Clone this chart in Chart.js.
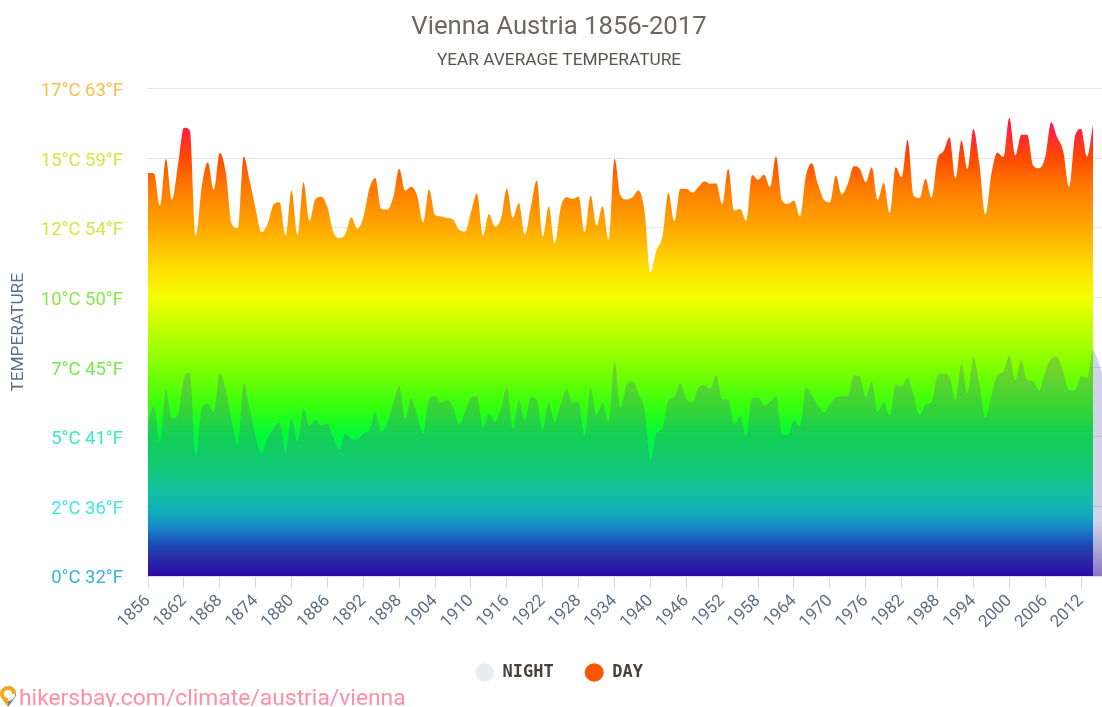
<!DOCTYPE html>
<html>
<head>
<meta charset="utf-8">
<title>Vienna Austria 1856-2017</title>
<script src="https://cdn.jsdelivr.net/npm/chart.js@4"></script>
<style>
html, body { margin: 0; padding: 0; width: 1102px; height: 707px; overflow: hidden; background: #fff; }
#wrap { position: relative; width: 1102px; height: 707px; overflow: hidden; }
#chart { position: absolute; left: 0; top: 0; }
#link { position: absolute; left: 19px; top: 684px; font: 22.85px Roboto, sans-serif; color: #ff8ea5; white-space: nowrap; }
#pin { position: absolute; left: 0; top: 686px; }
</style>
</head>
<body>
<div id="wrap">
  <canvas id="chart" width="1118" height="707"></canvas>
  <svg id="pin" width="16" height="21" viewBox="0 0 16 21">
    <path d="M8 0a8 8 0 0 1 8 8c0 2-1 3.500-2 5l-6 8V15a7 7 0 0 0 0-14z" fill="#7b8794"/>
    <path d="M8 0a8 8 0 0 0-8 8c0 2 1 3.500 2 5l6 8V12a4 4 0 0 1 0-8 4 4 0 0 1 4 4h4a8 8 0 0 0-8-8z" fill="#f5a623"/>
    <circle cx="8" cy="8" r="3.500" fill="#fff"/>
  </svg>
  <div id="link">hikersbay.com/climate/austria/vienna</div>
</div>
<script>
let years=[1856,1857,1858,1859,1860,1861,1862,1863,1864,1865,1866,1867,1868,1869,1870,1871,1872,1873,1874,1875,
1876,1877,1878,1879,1880,1881,1882,1883,1884,1885,1886,1887,1888,1889,1890,1891,1892,1893,1894,1895,
1896,1897,1898,1899,1900,1901,1902,1903,1904,1905,1906,1907,1908,1909,1910,1911,1912,1913,1914,1915,
1916,1917,1918,1919,1920,1921,1922,1923,1924,1925,1926,1927,1928,1929,1930,1931,1932,1933,1934,1935,
1936,1937,1938,1939,1940,1941,1942,1943,1944,1945,1946,1947,1948,1949,1950,1951,1952,1953,1954,1955,
1956,1957,1958,1959,1960,1961,1962,1963,1964,1965,1966,1967,1968,1969,1970,1971,1972,1973,1974,1975,
1976,1977,1978,1979,1980,1981,1982,1983,1984,1985,1986,1987,1988,1989,1990,1991,1992,1993,1994,1995,
1996,1997,1998,1999,2000,2001,2002,2003,2004,2005,2006,2007,2008,2009,2010,2011,2012,2013,2014,2015,2016,2017]

let day_temp=[14.47,14.46,13.30,14.97,13.51,14.74,16.09,15.99,12.23,14.02,14.86,13.88,15.19,14.50,12.65,12.49,15.06,14.20,13.18,12.35,
12.65,13.34,13.42,12.23,13.84,12.25,14.14,12.76,13.54,13.62,13.24,12.35,12.13,12.29,12.88,12.47,12.88,13.90,14.29,13.18,
13.16,13.60,14.62,13.84,13.98,13.66,12.70,13.88,12.97,12.91,12.85,12.80,12.43,12.37,13.06,13.74,12.23,13.00,12.55,12.82,
13.90,12.86,13.39,12.26,13.24,14.20,12.19,13.27,11.95,13.24,13.60,13.54,13.63,12.35,13.66,12.59,13.28,12.08,14.98,13.66,
13.52,13.60,13.84,13.12,10.91,11.69,12.17,13.76,12.74,13.90,13.90,13.76,13.96,14.16,14.08,14.10,13.36,14.62,13.12,13.18,
12.76,14.40,14.23,14.41,13.96,15.06,13.48,13.36,13.48,12.92,14.38,14.82,14.08,13.51,13.42,14.38,13.70,14.08,14.71,14.62,
14.14,14.68,13.51,14.12,13.03,14.68,14.32,15.66,13.66,13.57,14.26,13.58,14.98,15.25,15.75,14.28,15.63,14.62,16.05,14.80,
12.98,14.44,15.21,15.04,16.45,15.10,15.84,15.84,14.74,14.64,15.04,16.29,15.75,15.27,13.98,15.81,16.05,15.06,16.21,null,null,null]

let night_temp=[5.53,6.11,4.82,6.69,5.65,5.81,7.09,7.30,4.34,6.01,6.19,5.89,7.27,6.67,5.59,4.70,6.91,6.01,5.00,4.40,
4.94,5.30,5.51,4.48,5.65,4.82,6.01,5.41,5.62,5.41,5.47,4.94,4.54,5.12,4.90,4.90,5.12,5.24,5.89,5.18,
5.47,6.19,6.81,5.65,6.37,5.77,5.12,6.37,6.45,6.22,6.33,6.07,5.45,5.89,6.41,6.45,5.36,5.83,5.53,6.01,
6.79,5.30,6.31,5.59,6.43,6.31,5.26,6.22,5.53,6.19,6.71,6.23,6.25,5.03,6.75,5.77,6.22,5.53,7.71,6.07,
6.85,7.00,6.55,6.01,4.18,5.12,5.30,6.31,6.43,6.91,6.37,6.22,6.75,6.85,6.73,7.21,6.35,6.33,5.47,5.74,
5.00,6.39,6.41,6.11,6.25,6.45,5.08,5.06,5.59,5.38,6.76,6.49,6.13,5.87,6.17,6.41,6.45,6.46,7.21,7.15,
6.43,6.97,5.89,6.25,5.77,6.85,6.81,7.11,6.49,5.77,6.17,6.23,7.21,7.27,7.15,6.31,7.63,6.55,7.84,6.91,
5.69,6.49,7.21,7.33,7.92,7.03,7.74,7.03,7.00,6.67,7.33,7.80,7.86,7.33,6.67,6.67,7.17,7.12,8.10,7.64,6.99,6.90]

let y_tick_values=[0,2.5,5,7.5,10,12.5,15,17.5]
let y_tick_labels=["0°C 32°F","2°C 36°F","5°C 41°F","7°C 45°F","10°C 50°F","12°C 54°F","15°C 59°F","17°C 63°F"]
let y_tick_colors=['#36b0e2','#3ce9e0','#36eac4','#74ea4e','#88e84a','#d6e444','#dce23e','#fdbd4c']
let x_tick_years=[1856,1862,1868,1874,1880,1886,1892,1898,1904,1910,1916,1922,1928,1934,1940,1946,1952,1958,1964,1970,1976,1982,1988,1994,2000,2006,2012]

// value on the temperature axis -> colour
let day_stops=[[17.5,'#ff0050'],[16,'#ff2040'],[15,'#ff4a00'],[14,'#ff7800'],[12.5,'#ffa800'],[11,'#ffe000'],[10,'#f4ff00'],[7.5,'#80ff00'],[6,'#30ff10'],[5,'#00f83c'],[4.63,'#00f449'],[3.8,'#00ee69'],[3.08,'#00e49e'],[2.37,'#00cebe'],[1.65,'#0697d8'],[1.18,'#035dc5'],[0.68,'#1336ad'],[0.1,'#1105b3'],[0,'#1105b3']]
let night_stops=[[8.2,'rgba(70,85,165,0.25)'],[2,'rgba(70,85,165,0.25)'],[0,'rgba(60,20,160,0.6)']]

function make_gradient(chart, stops) {
  let area = chart.chartArea
  if (!area) return 'transparent'
  let y = chart.scales.y
  let g = chart.ctx.createLinearGradient(0, area.top, 0, area.bottom)
  stops.forEach(function (s) {
    g.addColorStop((y.getPixelForValue(s[0]) - area.top) / (area.bottom - area.top), s[1])
  })
  return g
}

var ctx = document.getElementById('chart').getContext('2d')

var chart = new Chart(ctx, {
  type: 'line',
  data: {
    labels: years,
    datasets: [{
      label: 'NIGHT',
      data: night_temp,
      fill: 'origin',
      borderWidth: 0,
      pointRadius: 0,
      cubicInterpolationMode: 'monotone',
      backgroundColor: function (c) { return make_gradient(c.chart, night_stops) },
    }, {
      label: 'DAY',
      data: day_temp,
      fill: 'origin',
      borderWidth: 0,
      pointRadius: 0,
      cubicInterpolationMode: 'monotone',
      backgroundColor: function (c) { return make_gradient(c.chart, day_stops) },
    }]
  },
  options: {
    responsive: false,
    animation: false,
    layout: { padding: { left: 7, right: 7, top: 12, bottom: 16 } },
    plugins: {
      title: {
        display: true,
        text: 'Vienna Austria 1856-2017',
        color: '#6e6860',
        font: { family: 'Roboto', size: 25.7, weight: 'normal' },
        padding: { top: 0, bottom: 7.4 },
      },
      subtitle: {
        display: true,
        text: 'YEAR AVERAGE TEMPERATURE',
        color: '#5a5550',
        font: { family: 'Roboto', size: 17.3, weight: 'normal' },
        padding: { top: 0, bottom: 17.6 },
      },
      legend: {
        position: 'bottom',
        labels: {
          color: '#4a4038',
          font: { family: 'DejaVu Sans Mono', size: 17, weight: 'bold' },
          usePointStyle: true,
          pointStyle: 'circle',
          pointStyleWidth: 19,
          boxWidth: 19,
          boxHeight: 13,
          padding: 31,
          generateLabels: function () {
            return [
              { text: 'NIGHT', fillStyle: '#e8edf3', strokeStyle: '#e8edf3', lineWidth: 0, pointStyle: 'circle', fontColor: '#4a4038' },
              { text: 'DAY', fillStyle: '#ff5500', strokeStyle: '#ff5500', lineWidth: 0, pointStyle: 'circle', fontColor: '#4a4038' },
            ]
          },
        },
      },
      tooltip: { enabled: false },
    },
    scales: {
      x: {
        offset: false,
        afterFit: function (s) { s.height = 57 },
        border: { color: '#d3d9ee' },
        grid: { drawOnChartArea: false, drawTicks: true, tickLength: 12, tickColor: '#d3d9ee' },
        ticks: {
          autoSkip: false,
          maxRotation: 45,
          minRotation: 45,
          color: '#5f6f81',
          font: { family: 'Roboto', size: 17 },
          callback: function (v) {
            let year = years[v]
            return x_tick_years.indexOf(year) >= 0 ? String(year) : null
          },
        },
      },
      y: {
        min: 0,
        max: 17.5,
        afterFit: function (s) { s.width = 141 },
        afterBuildTicks: function (s) { s.ticks = y_tick_values.map(function (v) { return { value: v } }) },
        border: { display: false },
        grid: { color: '#e6e6e6', tickLength: 2, tickColor: '#e6e6e6' },
        title: {
          display: true,
          text: 'TEMPERATURE',
          color: '#5f6f81',
          font: { family: 'Roboto', size: 17.3 },
          padding: { top: 1.6, bottom: 0 },
        },
        ticks: {
          padding: 23,
          font: { family: 'Roboto', size: 18.5, lineHeight: 0.3 },
          color: function (c) { return y_tick_colors[y_tick_values.indexOf(c.tick.value)] },
          // empty first line pushes the label down a little, the original sits just under its grid line
          callback: function (v) { return ['', y_tick_labels[y_tick_values.indexOf(v)]] },
        },
      },
    },
  },
})
</script>
</body>
</html>
